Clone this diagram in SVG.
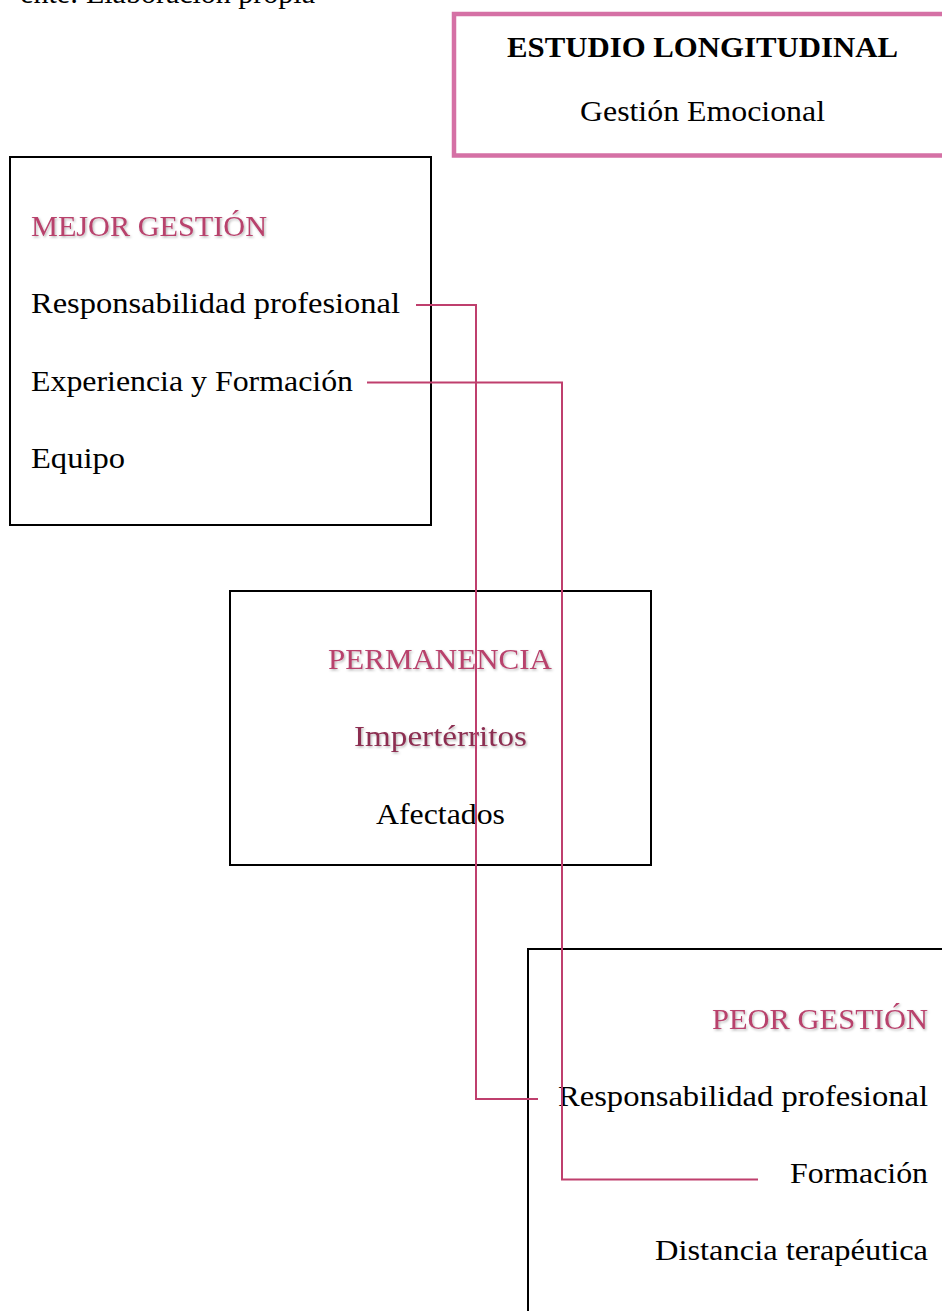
<svg xmlns="http://www.w3.org/2000/svg" width="942" height="1311" viewBox="0 0 942 1311">
<defs>
<filter id="sh" x="-5%" y="-20%" width="110%" height="150%">
<feDropShadow dx="1.2" dy="1.5" stdDeviation="1" flood-color="#000" flood-opacity="0.28"/>
</filter>
<style>
.t{font-family:"Liberation Serif","DejaVu Serif",serif;font-size:30px;fill:#000}
.h{fill:#b8426c;filter:url(#sh)}
.d{fill:#8c2f51;filter:url(#sh)}
.box{fill:#fff;stroke:#000;stroke-width:2}
.con{fill:none;stroke:#bf3f6d;stroke-width:2}
</style>
</defs>
<text class="t" x="315" y="3" font-size="32" text-anchor="end">ente: Elaboración propia</text>
<g id="titulo">
<rect x="454" y="14" width="520" height="141.5" fill="#fff" stroke="#d571a5" stroke-width="4.5"/>
<text class="t" x="702.5" y="57" font-size="27" font-weight="bold" text-anchor="middle" textLength="391" lengthAdjust="spacingAndGlyphs">ESTUDIO LONGITUDINAL</text>
<text class="t" x="702.5" y="121" font-size="27" text-anchor="middle" textLength="245" lengthAdjust="spacingAndGlyphs">Gestión Emocional</text>
</g>
<g id="mejor">
<rect class="box" x="10" y="157" width="421" height="368"/>
<text class="t h" x="31" y="236" textLength="236" lengthAdjust="spacingAndGlyphs">MEJOR GESTIÓN</text>
<text class="t" x="31" y="313" textLength="369" lengthAdjust="spacingAndGlyphs">Responsabilidad profesional</text>
<text class="t" x="31" y="391" textLength="322" lengthAdjust="spacingAndGlyphs">Experiencia y Formación</text>
<text class="t" x="31" y="468" textLength="94" lengthAdjust="spacingAndGlyphs">Equipo</text>
</g>
<g id="permanencia">
<rect class="box" x="230" y="591" width="421" height="274"/>
<text class="t h" x="440" y="669" text-anchor="middle" textLength="224" lengthAdjust="spacingAndGlyphs">PERMANENCIA</text>
<text class="t d" x="440.5" y="746" text-anchor="middle" textLength="173" lengthAdjust="spacingAndGlyphs">Impertérritos</text>
<text class="t" x="440.5" y="824" text-anchor="middle" textLength="129" lengthAdjust="spacingAndGlyphs">Afectados</text>
</g>
<g id="peor">
<rect class="box" x="528" y="949" width="440" height="400"/>
<text class="t h" x="928" y="1029" text-anchor="end" textLength="216" lengthAdjust="spacingAndGlyphs">PEOR GESTIÓN</text>
<text class="t" x="928" y="1106" text-anchor="end" textLength="370" lengthAdjust="spacingAndGlyphs">Responsabilidad profesional</text>
<text class="t" x="928" y="1183" text-anchor="end" textLength="138" lengthAdjust="spacingAndGlyphs">Formación</text>
<text class="t" x="928" y="1260" text-anchor="end" textLength="273" lengthAdjust="spacingAndGlyphs">Distancia terapéutica</text>
</g>
<g id="connectors">
<path class="con" d="M416 305 H476 V1099 H538"/>
<path class="con" d="M367 382.5 H562 V1179.5 H758"/>
</g>
</svg>
